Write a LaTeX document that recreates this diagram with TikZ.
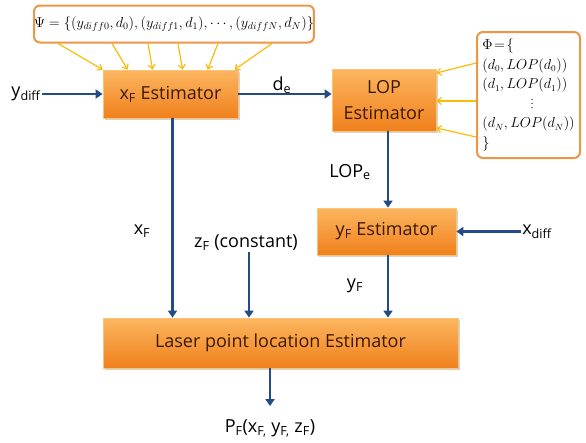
\documentclass[tikz,border=0pt]{standalone}
\usepackage{fontspec}
\setmainfont{Open Sans}
\usepackage{tikz}
\usetikzlibrary{arrows.meta, positioning, calc, shadows}
\definecolor{estorange}{RGB}{240,128,28}
\definecolor{estlight}{RGB}{252,182,96}
\definecolor{estedge}{RGB}{250,196,120}
\definecolor{setorange}{RGB}{238,150,72}
\definecolor{flowblue}{RGB}{35,75,135}
\definecolor{tableyel}{RGB}{250,188,10}
\definecolor{esttext}{RGB}{60,25,5}

\begin{document}
\begin{tikzpicture}[
    x=1pt, y=-1pt,
    estbox/.style={rectangle, draw=estedge, line width=0.8pt, top color=estlight, bottom color=estorange, text=esttext, font=\fontsize{18}{26}\selectfont, align=center, inner sep=0pt, drop shadow={shadow xshift=1.5pt, shadow yshift=-1.5pt, opacity=0.35}},
    setbox/.style={rectangle, draw=setorange, line width=2pt, rounded corners=6pt, fill=white, inner sep=0pt},
    lbl/.style={font=\fontsize{18}{21}\selectfont, inner sep=1pt},
    arr/.style={-{Triangle[length=7pt,width=9pt]}, flowblue, line width=2.2pt},
    yarr/.style={-{Straight Barb[length=4pt,width=7pt]}, tableyel, line width=1.2pt}
]
\useasboundingbox (0,0) rectangle (586,442);

% sets of samples
\node[setbox, minimum width=272pt, minimum height=37pt, font=\fontsize{14}{16}\selectfont] (psi) at (174,24)
  {$\Psi=\{(y_{diff0},d_0),(y_{diff1},d_1),\cdots,(y_{diffN},d_N)\}$};
\node[setbox, minimum width=103pt, minimum height=126pt, align=left, font=\fontsize{13.5}{19.5}\selectfont] (phi) at (528.5,95)
  {$\Phi\!=\!\{$\\ $(d_0,LOP(d_0))$\\ $(d_1,LOP(d_1))$\\ \hspace*{3.6em}{\fontsize{10}{10}\selectfont$\vdots$}\\ $(d_N,LOP(d_N))$\\ $\}$};

% estimators
\node[estbox, minimum width=135pt, minimum height=48pt] (xfest) at (170.5,94) {x\textsubscript{F} Estimator};
\node[estbox, minimum width=104pt, minimum height=62pt] (lopest) at (384,100) {LOP\\Estimator};
\node[estbox, minimum width=139pt, minimum height=47pt] (yfest) at (386.5,231.5) {y\textsubscript{F} Estimator};
\node[estbox, minimum width=355pt, minimum height=50pt] (laser) at (280.5,343) {Laser point location Estimator};

% signal labels
\node[lbl] (ydiff) at (26,94) {y\textsubscript{diff}};
\node[lbl] (de) at (282,85) {d\textsubscript{e}};
\node[lbl] (lope) at (350,172) {LOP\textsubscript{e}};
\node[lbl] (xdiff) at (537,231.5) {x\textsubscript{diff}};
\node[lbl] (xf) at (142,231) {x\textsubscript{F}};
\node[lbl] (zf) at (246,243) {z\textsubscript{F} (constant)};
\node[lbl] (yf) at (355,286) {y\textsubscript{F}};
\node[lbl] (pf) at (270,428) {P\textsubscript{F}(x\textsubscript{F,} y\textsubscript{F,} z\textsubscript{F})};

% table feeds
\foreach \a/\b in {25/0, 79/25, 115/50, 145/80, 185/105, 239/132}
  \draw[yarr] ([xshift=\a pt]psi.south west) -- ([xshift=\b pt]xfest.north west);
\foreach \a/\b in {32/27, -6/-1, -42/-28}
  \draw[yarr] ([yshift=\a pt]phi.west) -- ([yshift=\b pt]lopest.east);

% signal flow
\draw[arr] (ydiff) -- (xfest);
\draw[arr] (xfest.east) -- (xfest.east -| lopest.west);
\draw[arr] ([xshift=4pt]lopest.south) -- ([xshift=4pt]lopest.south |- yfest.north);
\draw[arr] (xdiff) -- (yfest);
\draw[arr] ([xshift=2pt]xfest.south) -- ([xshift=2pt]xfest.south |- laser.north);
\draw[arr] ([xshift=3pt]zf.south) -- ([xshift=3pt]zf.south |- laser.north);
\draw[arr] ([xshift=1.5pt]yfest.south) -- ([xshift=1.5pt]yfest.south |- laser.north);
\draw[arr, shorten >=12pt] (laser.south -| pf.north) -- (pf.north);
\end{tikzpicture}
\end{document}
